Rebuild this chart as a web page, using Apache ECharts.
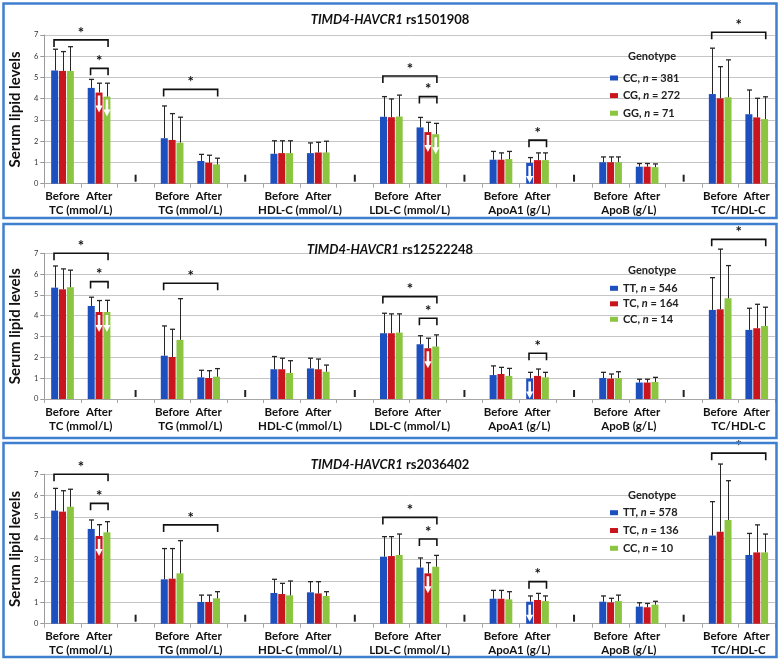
<!DOCTYPE html>
<html><head><meta charset="utf-8">
<script src="https://cdn.jsdelivr.net/npm/echarts@6/dist/echarts.min.js"></script>
<style>html,body{margin:0;padding:0;background:#fff}#c{width:780px;height:669px}</style>
</head><body><div id="c"></div>
<script>
// ---------- DATA ----------
const categories = ['Before','After','','Before','After','','Before','After','','Before','After','','Before','After','','Before','After','','Before','After'];
const groups = ['TC (mmol/L)','TG (mmol/L)','HDL-C (mmol/L)','LDL-C (mmol/L)','ApoA1 (g/L)','ApoB (g/L)','TC/HDL-C'];
const gene = 'TIMD4-HAVCR1';
const snps = ['rs1501908','rs12522248','rs2036402'];
const yTicks = [0,1,2,3,4,5,6,7];
const yName = 'Serum lipid levels';
const legendTitle = 'Genotype';

const genotypes1 = ['CC, n = 381','CG, n = 272','GG, n = 71'];
const genotypes2 = ['TT, n = 546','TC, n = 164','CC, n = 14'];
const genotypes3 = ['TT, n = 578','TC, n = 136','CC, n = 10'];

// means (Before, After for each lipid group) and SD (upper error)
const p1Blue    = [5.33,4.51,2.14,1.07,1.41,1.44,3.15,2.65,1.13,0.98,1.01,0.80,4.22,3.27];
const p1BlueSD  = [1.00,0.40,1.52,0.31,0.61,0.48,0.95,0.47,0.39,0.25,0.25,0.15,2.16,1.14];
const p1Red     = [5.31,4.29,2.06,0.99,1.44,1.47,3.13,2.43,1.13,1.11,1.01,0.80,4.02,3.12];
const p1RedSD   = [0.91,0.44,1.24,0.35,0.58,0.48,0.86,0.46,0.32,0.34,0.25,0.15,1.49,0.90];
const p1Green   = [5.31,4.10,1.93,0.91,1.44,1.47,3.16,2.33,1.16,1.11,1.01,0.78,4.07,3.04];
const p1GreenSD = [1.14,0.63,1.20,0.29,0.58,0.53,1.01,0.51,0.36,0.34,0.25,0.15,1.76,1.05];

const p2Blue    = [5.35,4.47,2.08,1.04,1.43,1.47,3.16,2.63,1.15,0.99,1.01,0.79,4.28,3.32];
const p2BlueSD  = [1.04,0.42,1.43,0.34,0.61,0.49,0.96,0.41,0.44,0.29,0.27,0.16,1.55,1.04];
const p2Red     = [5.27,4.18,2.02,1.01,1.43,1.43,3.16,2.44,1.20,1.11,0.98,0.79,4.31,3.40];
const p2RedSD   = [0.98,0.55,1.33,0.35,0.53,0.49,0.93,0.48,0.32,0.33,0.22,0.16,2.89,1.15];
const p2Green   = [5.37,4.18,2.84,1.07,1.25,1.31,3.19,2.52,1.11,1.04,1.01,0.82,4.84,3.51];
const p2GreenSD = [0.82,0.56,1.98,0.39,0.59,0.32,0.90,0.56,0.36,0.24,0.30,0.22,1.57,0.90];

const p3Blue    = [5.30,4.44,2.08,1.02,1.44,1.47,3.14,2.63,1.17,1.03,1.03,0.80,4.13,3.22];
const p3BlueSD  = [1.04,0.42,1.44,0.32,0.64,0.50,0.94,0.45,0.39,0.27,0.27,0.18,1.59,1.01];
const p3Red     = [5.25,4.11,2.11,1.02,1.39,1.42,3.17,2.36,1.17,1.11,1.00,0.77,4.31,3.34];
const p3RedSD   = [0.98,0.53,1.41,0.32,0.50,0.55,0.91,0.50,0.39,0.31,0.19,0.18,3.17,1.29];
const p3Green   = [5.48,4.28,2.36,1.19,1.33,1.30,3.22,2.67,1.14,1.06,1.06,0.89,4.86,3.34];
const p3GreenSD = [0.82,0.50,1.53,0.31,0.67,0.20,0.98,0.53,0.36,0.24,0.28,0.16,1.84,0.86];

// significance brackets: [fromCategory, toCategory, yValue]
const p1Brackets = [[0,1,6.77],[1,1,5.43],[3,4,4.44],[9,10,5.07],[10,10,4.10],[13,13,2.05],[18,19,7.13]];
const p2Brackets = [[0,1,7.00],[1,1,5.64],[3,4,5.56],[9,10,4.92],[10,10,3.88],[13,13,2.20],[18,19,7.67]];
const p3Brackets = [[0,1,7.00],[1,1,5.64],[3,4,4.63],[9,10,4.98],[10,10,3.97],[13,13,1.97],[18,19,7.99]];
// white down arrows: [category, genotype index]
const p1Arrows = [[1,1],[1,2],[10,1],[10,2],[13,0]];
const p2Arrows = [[1,1],[1,2],[10,1],[13,0]];
const p3Arrows = [[1,1],[10,1],[13,0]];

// ---------- STYLE / LAYOUT ----------
const colors = ['#1d4fbf','#c9161e','#8cc540'];
const FONT = 'Lato, "Open Sans", sans-serif';
const BAR_W = 7, BAR_STEP = 7.84;
const layout = [
  {top:35,    height:148.7, box:[3.5,3.5,773,214.5], titleTop:12,  genoTop:50.7,  legendTop:72,    legendGap:5.6},
  {top:253.3, height:145.7, box:[3.5,224,773,214],   titleTop:242, genoTop:264.7, legendTop:282.3, legendGap:3.5},
  {top:474.3, height:149.4, box:[3.5,443,773,214],   titleTop:457, genoTop:489.7, legendTop:506.7, legendGap:5.8}
];

const panels = [
  {snp:snps[0], names:genotypes1, means:[p1Blue,p1Red,p1Green], sds:[p1BlueSD,p1RedSD,p1GreenSD], brackets:p1Brackets, arrows:p1Arrows},
  {snp:snps[1], names:genotypes2, means:[p2Blue,p2Red,p2Green], sds:[p2BlueSD,p2RedSD,p2GreenSD], brackets:p2Brackets, arrows:p2Arrows},
  {snp:snps[2], names:genotypes3, means:[p3Blue,p3Red,p3Green], sds:[p3BlueSD,p3RedSD,p3GreenSD], brackets:p3Brackets, arrows:p3Arrows}
];

function catOf(k){ return 3*Math.floor(k/2) + (k%2); }
function expand(arr){
  const out = categories.map(()=> '-');
  arr.forEach((v,k)=>{ out[catOf(k)] = v; });
  return out;
}

const grids=[], xAxes=[], yAxes=[], series=[], legends=[], titles=[], graphics=[];

panels.forEach((P, i)=>{
  const L = layout[i];
  grids.push({left:42, width:733, top:L.top, height:L.height});
  xAxes.push({
    type:'category', gridIndex:i, data:categories,
    axisLine:{lineStyle:{color:'#a6a6a6', width:1}},
    axisTick:{show:true, interval:0, length:4, lineStyle:{color:'#a6a6a6'}},
    axisLabel:{interval:0, margin:7, fontSize:11.5, fontWeight:'bold', color:'#111', fontFamily:FONT},
    splitLine:{show:false}
  });
  yAxes.push({
    type:'value', gridIndex:i, min:yTicks[0], max:yTicks[yTicks.length-1], interval:1,
    name:yName, nameLocation:'middle', nameGap:17, nameRotate:90,
    nameTextStyle:{fontSize:15, fontWeight:'bold', color:'#111', fontFamily:FONT},
    axisLine:{show:true, lineStyle:{color:'#999'}},
    axisTick:{show:true, length:4, lineStyle:{color:'#999'}},
    axisLabel:{fontSize:7.5, color:'#333', margin:6, fontFamily:FONT},
    splitLine:{lineStyle:{color:'#c6c6c6', width:1}}
  });
  // bars
  P.means.forEach((m,j)=>{
    series.push({
      type:'bar', name:P.names[j], xAxisIndex:i, yAxisIndex:i,
      data:expand(m), barWidth:BAR_W, barGap:'12%',
      itemStyle:{color:colors[j]}, z:2, animation:false
    });
  });
  // error bars
  const errData = [];
  P.means.forEach((m,j)=>{ m.forEach((v,k)=> errData.push([catOf(k), v, P.sds[j][k], j])); });
  series.push({
    type:'custom', xAxisIndex:i, yAxisIndex:i, data:errData, z:3, animation:false, silent:true,
    encode:{x:0, y:1},
    renderItem:(params, api)=>{
      const c=api.value(0), m=api.value(1), sd=api.value(2), j=api.value(3);
      const p0=api.coord([c,m]), p1=api.coord([c,m+sd]);
      const x=Math.round(p0[0]+(j-1)*BAR_STEP)+0.5;
      return {type:'group', children:[
        {type:'line', shape:{x1:x,y1:p0[1],x2:x,y2:p1[1]}, style:{stroke:'#262626', lineWidth:1}},
        {type:'line', shape:{x1:x-2.5,y1:p1[1],x2:x+2.5,y2:p1[1]}, style:{stroke:'#262626', lineWidth:1.3}}
      ]};
    }
  });
  // arrows
  series.push({
    type:'custom', xAxisIndex:i, yAxisIndex:i, z:5, animation:false, silent:true,
    data:P.arrows.map(a=>[a[0], expand(P.means[a[1]])[a[0]], a[1]]),
    encode:{x:0, y:1},
    renderItem:(params, api)=>{
      const c=api.value(0), m=api.value(1), j=api.value(2);
      const p=api.coord([c,m]);
      const cx=p[0]+(j-1)*BAR_STEP, y0=p[1]+3;
      return {type:'polygon', shape:{points:[[cx-1.3,y0],[cx+1.3,y0],[cx+1.3,y0+10],[cx+3.6,y0+10],[cx,y0+17],[cx-3.6,y0+10],[cx-1.3,y0+10]]}, style:{fill:'#fff'}};
    }
  });
  // brackets
  series.push({
    type:'custom', xAxisIndex:i, yAxisIndex:i, z:4, animation:false, silent:true,
    data:P.brackets, encode:{x:[0,1], y:2},
    renderItem:(params, api)=>{
      const y=api.value(2);
      const a=api.coord([api.value(0),y]), b=api.coord([api.value(1),y]);
      const x1=a[0]-8.5, x2=b[0]+9, yy=a[1];
      return {type:'group', children:[
        {type:'polyline', shape:{points:[[x1,yy+7],[x1,yy],[x2,yy],[x2,yy+7]]}, style:{stroke:'#111', lineWidth:1.6, fill:null}},
        {type:'text', x:(x1+x2)/2, y:yy-7, style:{text:'*', align:'center', verticalAlign:'middle', fontSize:15, fontWeight:'bold', fontFamily:FONT, fill:'#111'}}
      ]};
    }
  });
  // gap markers
  series.push({
    type:'custom', xAxisIndex:i, yAxisIndex:i, z:4, animation:false, silent:true,
    data:categories.map((c,k)=>c===''?[k,0]:null).filter(d=>d), encode:{x:0, y:1},
    renderItem:(params, api)=>{
      const p=api.coord([api.value(0),0]);
      return {type:'line', shape:{x1:p[0],y1:p[1]-2,x2:p[0],y2:p[1]-9}, style:{stroke:'#222', lineWidth:2}};
    }
  });
  // group labels under axis
  series.push({
    type:'custom', xAxisIndex:i, yAxisIndex:i, z:4, animation:false, silent:true,
    data:groups.map((g,k)=>[3*k, 3*k+1]), encode:{x:[0,1]},
    renderItem:(params, api)=>{
      const a=api.coord([api.value(0),0]), b=api.coord([api.value(1),0]);
      return {type:'text', x:(a[0]+b[0])/2, y:a[1]+27, style:{text:groups[params.dataIndex], align:'center', verticalAlign:'middle', fontSize:11.5, fontWeight:'bold', fontFamily:FONT, fill:'#111'}};
    }
  });
  legends.push({
    data:P.names, orient:'vertical', left:610, top:L.legendTop, padding:0,
    itemWidth:8, itemHeight:5, itemGap:L.legendGap, icon:'rect', selectedMode:false,
    textStyle:{fontSize:11, fontWeight:'bold', color:'#222', fontFamily:FONT, lineHeight:12,
      rich:{n:{fontSize:11, fontWeight:'bold', fontStyle:'italic', color:'#222', fontFamily:FONT}}},
    formatter:(name)=>name.replace(' n ', ' {n|n} ')
  });
  titles.push({
    text:'{g|'+gene+'} '+P.snp, left:'center', top:L.titleTop, padding:0,
    textStyle:{fontSize:13, fontWeight:'bold', color:'#111', fontFamily:FONT, lineHeight:16,
      rich:{g:{fontSize:13, fontWeight:'bold', fontStyle:'italic', color:'#111', fontFamily:FONT}}}
  });
  titles.push({
    text:legendTitle, left:628, top:L.genoTop, padding:0,
    textStyle:{fontSize:11, fontWeight:'bold', color:'#222', fontFamily:FONT, lineHeight:12}
  });
  graphics.push({
    type:'rect', shape:{x:L.box[0], y:L.box[1], width:L.box[2], height:L.box[3]},
    style:{fill:null, stroke:'#3f7fd0', lineWidth:2.5}, z:100, silent:true
  });
});

const chart = echarts.init(document.getElementById('c'), null, {renderer:'canvas'});
chart.setOption({
  animation:false,
  backgroundColor:'#fff',
  title:titles,
  legend:legends,
  grid:grids,
  xAxis:xAxes,
  yAxis:yAxes,
  series:series,
  graphic:graphics
});
</script></body></html>
